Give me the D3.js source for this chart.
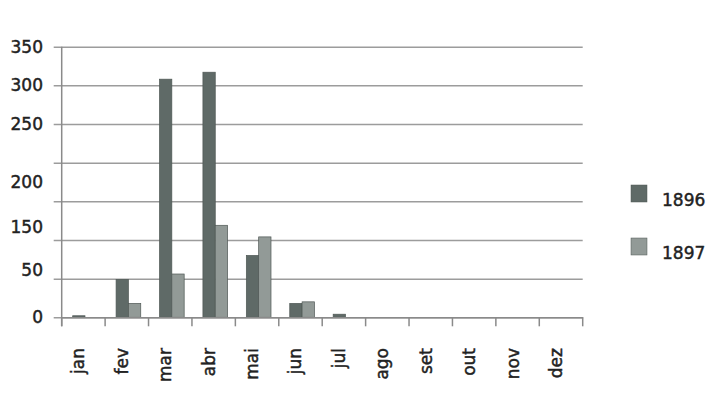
<!DOCTYPE html>
<html>
<head>
<meta charset="utf-8">
<script src="https://cdn.jsdelivr.net/npm/d3@7"></script>
<style>
body { margin: 0; background: #fff; }
text { font-family: "DejaVu Sans", sans-serif; fill: #222; stroke: #222; stroke-width: 0.45px; }
</style>
</head>
<body>
<svg id="chart" width="716" height="396"></svg>
<script>
// data
var months = ["jan","fev","mar","abr","mai","jun","jul","ago","set","out","nov","dez"];
var series = ["1896","1897"];
var v1896 = [2, 49, 308, 317, 80, 18, 4, 0, 0, 0, 0, 0];
var v1897 = [0, 18, 56, 119, 104, 20, 0, 0, 0, 0, 0, 0];
var gridVals = [0, 50, 100, 150, 200, 250, 300, 350];
// labels as printed (they sit a bit off the gridlines in the original)
var yLabels = ["350","300","250","200","150","50","0"];
var yLabelAt = [350, 300, 250, 175, 117, 61, 0];
var colors = { "1896": "#5f6a67", "1897": "#929a97" };

var svg = d3.select("#chart");
var pLeft = 61.7, pRight = 582.7, pTop = 46.7, pBottom = 317.3;

var x = d3.scaleBand().domain(months).range([pLeft, pRight]);
var xi = d3.scaleBand().domain(series).range([0, x.bandwidth()])
  .paddingInner(0).paddingOuter(0.76).align(0.585);
var y = d3.scaleLinear().domain([0, 350]).range([pBottom, pTop]);

// gridlines
var grid = svg.append("g").attr("transform", "translate(" + pLeft + ",0)")
  .call(d3.axisLeft(y).tickValues(gridVals).tickFormat("").tickSizeOuter(0));
grid.select(".domain").remove();
grid.selectAll(".tick line")
  .attr("x1", -8).attr("x2", pRight - pLeft)
  .attr("stroke", "#9c9c9c").attr("stroke-width", 1.5);

// y axis line
svg.append("line")
  .attr("x1", pLeft).attr("x2", pLeft).attr("y1", pTop).attr("y2", pBottom + 9)
  .attr("stroke", "#8a8a8a").attr("stroke-width", 1.5);

// y labels
svg.append("g").selectAll("text").data(yLabels).join("text")
  .attr("x", 43).attr("y", (d, i) => y(yLabelAt[i]))
  .attr("dy", "0.36em").attr("text-anchor", "end")
  .style("font-size", "17px")
  .text(d => d);

// bars
var rows = months.map((m, i) => ({ m: m, vals: [{ s: "1896", v: v1896[i] }, { s: "1897", v: v1897[i] }] }));
svg.append("g").selectAll("g").data(rows).join("g")
  .attr("transform", d => "translate(" + x(d.m) + ",0)")
  .selectAll("rect").data(d => d.vals.filter(e => e.v > 0)).join("rect")
  .attr("x", d => xi(d.s)).attr("width", xi.bandwidth())
  .attr("y", d => y(d.v)).attr("height", d => pBottom - y(d.v))
  .attr("fill", d => colors[d.s])
  .attr("stroke", "#4f5855").attr("stroke-width", 0.7);

// x axis
var xa = svg.append("g").attr("transform", "translate(0," + pBottom + ")")
  .call(d3.axisBottom(x).tickSizeOuter(0).tickFormat(""));
xa.select(".domain").attr("stroke", "#8a8a8a").attr("stroke-width", 1.5);
xa.selectAll(".tick").remove();
var bounds = months.map(m => x(m)).concat([pRight]);
xa.selectAll(".bt").data(bounds).join("line").attr("class", "bt")
  .attr("x1", d => d).attr("x2", d => d).attr("y1", 0).attr("y2", 9)
  .attr("stroke", "#8a8a8a").attr("stroke-width", 1.5);

svg.append("g").selectAll("text").data(months).join("text")
  .attr("transform", d => "translate(" + (x(d) + x.bandwidth() / 2 + 1) + ",348) rotate(-90)")
  .attr("text-anchor", "end")
  .style("font-size", "17px")
  .text(d => d);

// legend
var lg = svg.append("g").selectAll("g").data(series).join("g")
  .attr("transform", (d, i) => "translate(631," + (185 + i * 53) + ")");
lg.append("rect").attr("width", 16).attr("height", 17)
  .attr("fill", d => colors[d]).attr("stroke", "#4f5855").attr("stroke-width", 0.5);
lg.append("text").attr("x", 31).attr("y", 21)
  .style("font-size", "17px").text(d => d);
</script>
</body>
</html>
